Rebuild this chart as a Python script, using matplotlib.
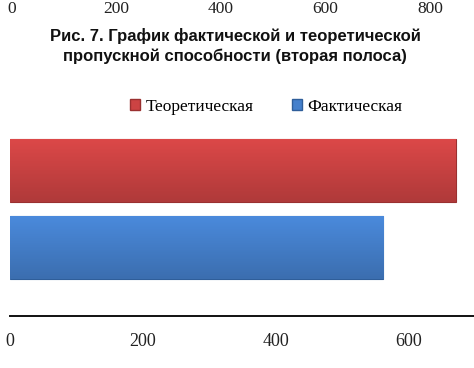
import matplotlib.pyplot as plt
import matplotlib.transforms as mtransforms
import numpy as np

# data
series = ['Фактическая', 'Теоретическая']
values = [561, 670]
colors = ['#4580CC', '#CC4343']
edges = ['#2F5E9A', '#9A3030']
bottom_ticks = [0, 200, 400, 600]
top_ticks = [0, 200, 400, 600, 800]  # cut-off axis of the previous figure
caption = 'Рис. 7. График фактической и теоретической\nпропускной способности (вторая полоса)'

W, H = 474, 368
fig = plt.figure(figsize=(W / 100, H / 100), dpi=100)

# main axes: x=0 at 10px, 200 units = 133px, spine at y=316px
x0 = 10
width_px = 700 / 200 * 133
bottom_px = 316
top_px = 124
ax = fig.add_axes([x0 / W, (H - bottom_px) / H, width_px / W, (bottom_px - top_px) / H])

ypos = np.arange(len(series))
bars = ax.barh(ypos, values, height=0.82, color=colors, edgecolor=edges, linewidth=0.8, zorder=3)

# soft vertical shading on each bar
for b, c in zip(bars, colors):
    x, y, w, h = b.get_x(), b.get_y(), b.get_width(), b.get_height()
    base = np.array(plt.matplotlib.colors.to_rgb(c))
    img = np.zeros((64, 1, 3))
    for i, g in enumerate(np.linspace(0, 1, 64)):
        f = 0.86 + 0.22 * g  # darker at bottom, lighter at top
        img[i, 0] = np.clip(base * f, 0, 1)
    im = ax.imshow(img, extent=[x, x + w, y, y + h], origin='lower', aspect='auto', zorder=3.5)
    im.set_clip_path(b)

ax.set_xlim(0, 700)
ax.set_ylim(-0.89, 1.6)
ax.set_xticks(bottom_ticks)
ax.set_xticklabels([str(t) for t in bottom_ticks], family='Liberation Serif', fontsize=13, color='#222222')
ax.tick_params(axis='x', length=0, pad=12)
ax.set_yticks([])
for s in ['top', 'right', 'left']:
    ax.spines[s].set_visible(False)
ax.spines['bottom'].set_linewidth(1.4)
ax.spines['bottom'].set_color('#111111')

# legend
handles = [plt.Rectangle((0, 0), 1, 1, facecolor=colors[1], edgecolor=edges[1]),
           plt.Rectangle((0, 0), 1, 1, facecolor=colors[0], edgecolor=edges[0])]
fig.legend(handles, [series[1], series[0]], ncol=2, frameon=False,
           loc='center', bbox_to_anchor=(266 / W, 1 - 107 / H),
           prop={'family': 'Liberation Serif', 'size': 12.5},
           handlelength=0.6, handleheight=0.6, handletextpad=0.3, columnspacing=2.2)

# caption
fig.text(235 / W, 1 - 46 / H, caption, ha='center', va='center', family='Liberation Sans',
         fontweight='bold', fontsize=12, linespacing=1.35, color='#111111')

# tick labels of the chart above (cut off in the scan)
ax_top = fig.add_axes([12 / W, 0.99, 418 / W, 0.01])
ax_top.set_xlim(0, 800)
ax_top.axis('off')
trans = mtransforms.blended_transform_factory(ax_top.transData, fig.transFigure)
for t in top_ticks:
    ax_top.text(t, 1 - 9 / H, str(t), transform=trans, ha='center', va='center',
                family='Liberation Serif', fontsize=12.5, color='#222222', clip_on=False)

fig.savefig('out.png', dpi=100)
